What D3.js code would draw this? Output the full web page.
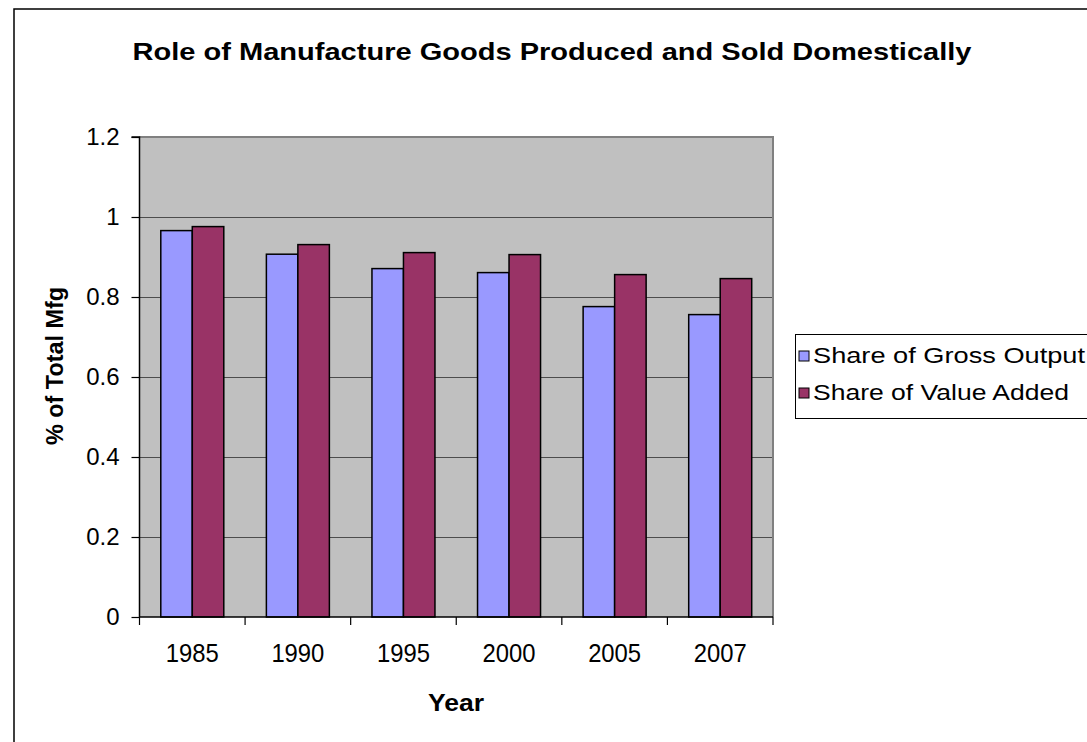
<!DOCTYPE html>
<html>
<head>
<meta charset="utf-8">
<script src="https://cdnjs.cloudflare.com/ajax/libs/d3/7.8.5/d3.min.js"></script>
<style>
  html, body { margin: 0; padding: 0; background: #fff; }
  svg { display: block; font-family: "Liberation Sans", Arial, sans-serif; }
</style>
</head>
<body>
<svg id="chart" width="1087" height="742"></svg>
<script>
// Chart data
const years = ["1985", "1990", "1995", "2000", "2005", "2007"];
const grossOutput = [0.966, 0.907, 0.871, 0.861, 0.776, 0.756];
const valueAdded = [0.976, 0.931, 0.911, 0.906, 0.856, 0.846];
const seriesNames = ["Share of Gross Output", "Share of Value Added"];
const seriesColors = ["#9999FF", "#993366"];
const yTicks = [0, 0.2, 0.4, 0.6, 0.8, 1, 1.2];

const svg = d3.select("#chart");

// Outer chart frame (extends past the right and bottom edges)
svg.append("rect")
  .attr("x", 14).attr("y", 9)
  .attr("width", 1200).attr("height", 900)
  .attr("fill", "#fff").attr("stroke", "#000").attr("stroke-width", 1.5);

const plot = { left: 139.5, right: 773, top: 137, bottom: 617 };

const x = d3.scaleBand()
  .domain(years)
  .range([plot.left, plot.right])
  .paddingInner(0).paddingOuter(0);

const y = d3.scaleLinear()
  .domain([0, 1.2])
  .range([plot.bottom, plot.top]);

// Plot background
svg.append("rect")
  .attr("x", plot.left).attr("y", plot.top)
  .attr("width", plot.right - plot.left).attr("height", plot.bottom - plot.top)
  .attr("fill", "#C0C0C0");

// Horizontal gridlines
svg.append("g")
  .selectAll("line")
  .data(yTicks.filter(t => t > 0 && t < 1.2))
  .join("line")
  .attr("x1", plot.left).attr("x2", plot.right)
  .attr("y1", d => Math.round(y(d)) + 0.5).attr("y2", d => Math.round(y(d)) + 0.5)
  .attr("stroke", "#4d4d4d").attr("stroke-width", 1);

// Plot border (top and right)
svg.append("path")
  .attr("d", `M${plot.left},${plot.top} H${plot.right} V${plot.bottom}`)
  .attr("fill", "none").attr("stroke", "#808080").attr("stroke-width", 2);

// Bars
const barW = 31.5;
const groupOffset = (x.bandwidth() - 2 * barW) / 2;
const seriesData = [grossOutput, valueAdded];

seriesData.forEach((vals, si) => {
  svg.append("g")
    .selectAll("rect")
    .data(vals)
    .join("rect")
    .attr("x", (d, i) => x(years[i]) + groupOffset + si * barW)
    .attr("y", d => y(d))
    .attr("width", barW)
    .attr("height", d => y(0) - y(d))
    .attr("fill", seriesColors[si])
    .attr("stroke", "#000")
    .attr("stroke-width", 1.5);
});

// Y axis
const yAxis = d3.axisLeft(y)
  .tickValues(yTicks)
  .tickFormat(d => d3.format("")(d))
  .tickSize(8)
  .tickPadding(12);

const yg = svg.append("g")
  .attr("transform", `translate(${plot.left},0)`)
  .call(yAxis);
yg.select(".domain").attr("stroke", "#000").attr("stroke-width", 1.5).attr("d", `M-8,${plot.top}H0V${plot.bottom}`);
yg.selectAll(".tick line").attr("stroke", "#000").attr("stroke-width", 1.2);
yg.selectAll(".tick text")
  .attr("font-size", 24).attr("fill", "#000")
  .attr("font-family", "Liberation Sans, Arial, sans-serif");

// X axis: ticks at category boundaries
const xg = svg.append("g")
  .attr("transform", `translate(0,${plot.bottom})`);
xg.append("line")
  .attr("x1", plot.left).attr("x2", plot.right)
  .attr("y1", 0).attr("y2", 0)
  .attr("stroke", "#000").attr("stroke-width", 1.5);
const boundaries = years.map(c => x(c)).concat([x(years[years.length - 1]) + x.bandwidth()]);
xg.selectAll("line.tick")
  .data(boundaries)
  .join("line")
  .attr("class", "tick")
  .attr("x1", d => d).attr("x2", d => d)
  .attr("y1", 0).attr("y2", 8)
  .attr("stroke", "#000").attr("stroke-width", 1.2);
xg.selectAll("text")
  .data(years)
  .join("text")
  .attr("x", d => x(d) + x.bandwidth() / 2)
  .attr("y", 45)
  .attr("text-anchor", "middle")
  .attr("font-size", 25)
  .attr("textLength", 53).attr("lengthAdjust", "spacingAndGlyphs")
  .text(d => d);

// Title
svg.append("text")
  .attr("x", 552).attr("y", 60)
  .attr("text-anchor", "middle")
  .attr("font-size", 24).attr("font-weight", "bold")
  .attr("textLength", 839).attr("lengthAdjust", "spacingAndGlyphs")
  .text("Role of Manufacture Goods Produced and Sold Domestically");

// Axis titles
svg.append("text")
  .attr("x", 456).attr("y", 711)
  .attr("text-anchor", "middle")
  .attr("font-size", 24).attr("font-weight", "bold")
  .attr("textLength", 56).attr("lengthAdjust", "spacingAndGlyphs")
  .text("Year");

svg.append("text")
  .attr("transform", "translate(63,366) rotate(-90)")
  .attr("text-anchor", "middle")
  .attr("font-size", 24).attr("font-weight", "bold")
  .attr("textLength", 158).attr("lengthAdjust", "spacingAndGlyphs")
  .text("% of Total Mfg");

// Legend
const legend = svg.append("g");
legend.append("rect")
  .attr("x", 795.5).attr("y", 334.5)
  .attr("width", 400).attr("height", 84)
  .attr("fill", "#fff").attr("stroke", "#000").attr("stroke-width", 1);

const legendRows = [355, 392];
seriesNames.forEach((name, i) => {
  legend.append("rect")
    .attr("x", 799).attr("y", legendRows[i] - 4)
    .attr("width", 10).attr("height", 10)
    .attr("fill", seriesColors[i]).attr("stroke", "#000").attr("stroke-width", 1);
  legend.append("text")
    .attr("x", 813).attr("y", legendRows[i] + 8)
    .attr("font-size", 22)
    .attr("textLength", i === 0 ? 272 : 256).attr("lengthAdjust", "spacingAndGlyphs")
    .text(name);
});
</script>
</body>
</html>
